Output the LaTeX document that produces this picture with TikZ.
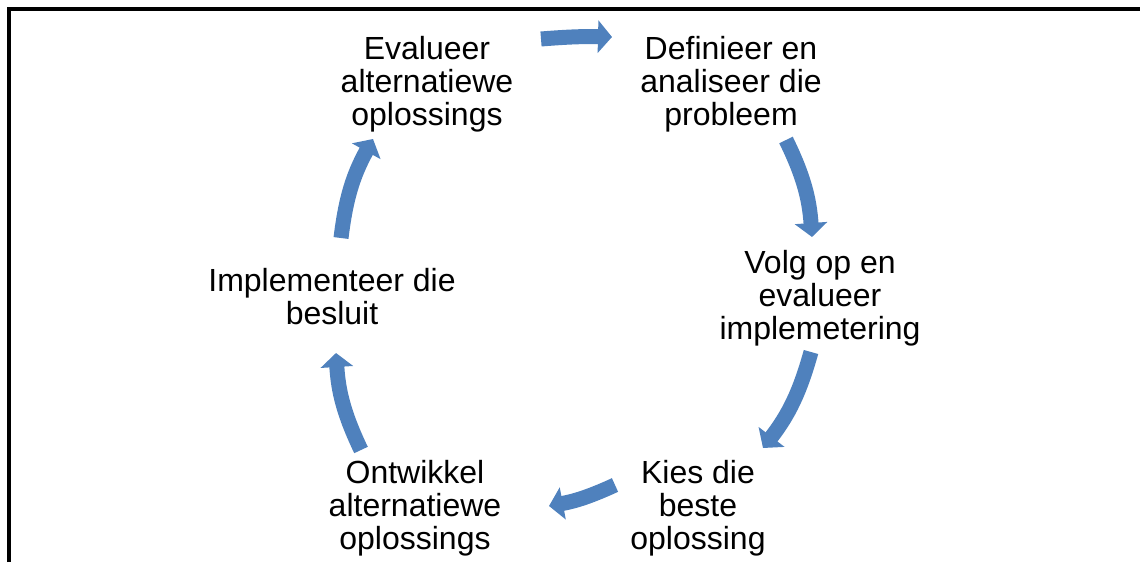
\documentclass[tikz,border=0pt]{standalone}
\usepackage{fontspec}
\setmainfont{Liberation Sans}
\usetikzlibrary{arrows.meta}
\definecolor{arrblue}{HTML}{4F81BD}
\begin{document}
\begin{tikzpicture}[x=1pt,y=-1pt,
  lbl/.style={font=\fontsize{32}{33}\selectfont, align=center, inner sep=0pt, text=black},
  arr/.style={draw=arrblue, line width=15pt, line cap=butt, -{Triangle[length=14pt,width=32pt]}}]
\useasboundingbox (0,0) rectangle (1140,562);
\draw[line width=4pt, line join=miter] (9,562) -- (9,9) -- (1140,9);
% labels
\node[lbl] (eval) at (427,84) {Evalueer\\alternatiewe\\oplossings};
\node[lbl] (def)  at (731,84) {Definieer en\\analiseer die\\probleem};
\node[lbl] (volg) at (820,298) {Volg op en\\evalueer\\implemetering};
\node[lbl] (kies) at (698,508) {Kies die\\beste\\oplossing};
\node[lbl] (ontw) at (415,508) {Ontwikkel\\alternatiewe\\oplossings};
\node[lbl] (impl) at (332,297) {Implementeer die\\besluit};
% arrow end points
\coordinate (a1s) at (541,39);  \coordinate (a1e) at (612,37);
\coordinate (a2s) at (786,140); \coordinate (a2e) at (812,237);
\coordinate (a3s) at (811,352); \coordinate (a3e) at (763,448);
\coordinate (a4s) at (615,485); \coordinate (a4e) at (549,506);
\coordinate (a5s) at (361,450); \coordinate (a5e) at (336,353);
\coordinate (a6s) at (341,238); \coordinate (a6e) at (373,139);
\draw[arr] (a1s) to[bend left=3] (a1e);
\draw[arr] (a2s) to[bend left=11] (a2e);
\draw[arr] (a3s) to[bend left=11] (a3e);
\draw[arr] (a4s) to[bend left=7] (a4e);
\draw[arr] (a5s) to[bend left=11] (a5e);
\draw[arr] (a6s) to[bend left=11] (a6e);
\end{tikzpicture}
\end{document}
